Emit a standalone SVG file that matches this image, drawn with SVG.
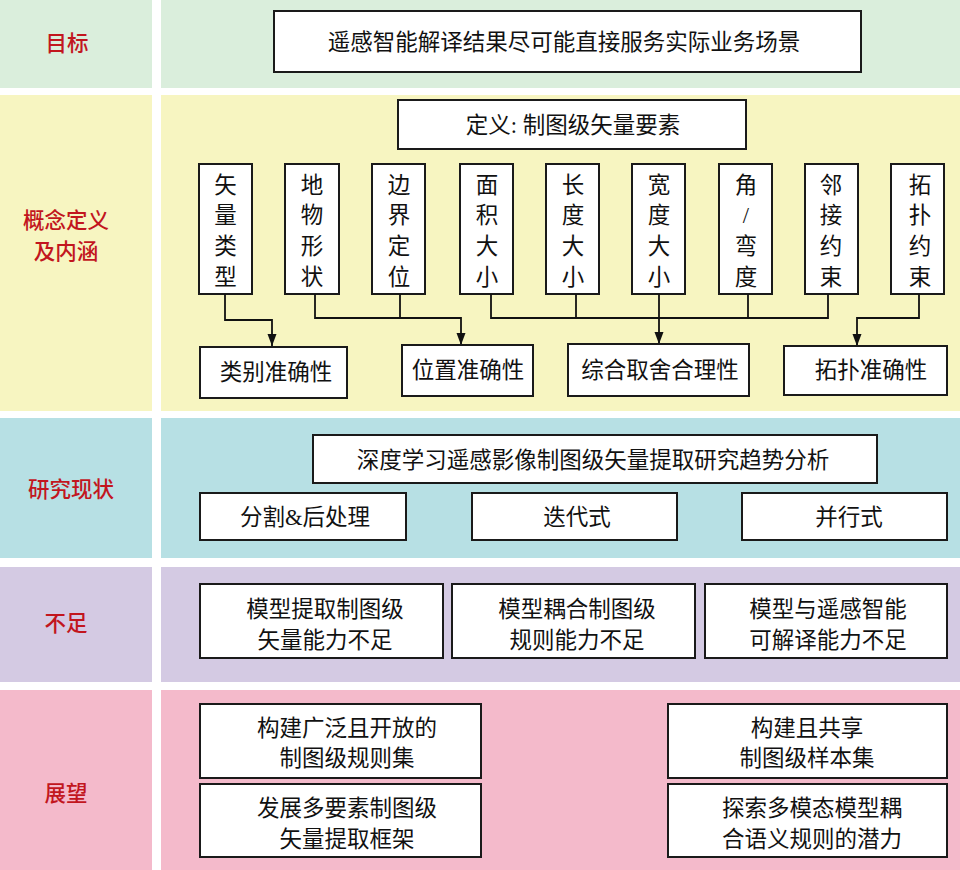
<svg xmlns="http://www.w3.org/2000/svg" width="960" height="870" viewBox="0 0 960 870">
<style>
.box{fill:#ffffff;stroke:#1a1a1a;stroke-width:2}
.t{font-family:'Liberation Serif','Noto Sans CJK SC',serif;font-size:22.5px;fill:#111111;text-anchor:middle;dominant-baseline:central}
.lab{font-family:'Noto Sans CJK SC',sans-serif;font-size:21.5px;font-weight:500;fill:#c2161e;text-anchor:middle;dominant-baseline:central}
.con{fill:none;stroke:#111111;stroke-width:1.8}
</style>
<defs>
<marker id="arr" markerUnits="userSpaceOnUse" markerWidth="12" markerHeight="12" viewBox="0 0 12 12" refX="12" refY="6" orient="auto">
<path d="M0,1.5 L12,6 L0,10.5 z" fill="#111111"/>
</marker>
</defs>
<rect x="0" y="0" width="960" height="870" fill="#ffffff"/>
<g id="bands">
<rect x="0" y="0" width="152" height="88" fill="#daeedc"/>
<rect x="161" y="0" width="799" height="88" fill="#daeedc"/>
<rect x="0" y="95" width="152" height="316" fill="#f7f5c1"/>
<rect x="161" y="95" width="799" height="316" fill="#f7f5c1"/>
<rect x="0" y="418" width="152" height="140" fill="#b7e0e4"/>
<rect x="161" y="418" width="799" height="140" fill="#b7e0e4"/>
<rect x="0" y="567" width="152" height="115" fill="#d4cae3"/>
<rect x="161" y="567" width="799" height="115" fill="#d4cae3"/>
<rect x="0" y="690" width="152" height="180" fill="#f4bacb"/>
<rect x="161" y="690" width="799" height="180" fill="#f4bacb"/>
</g>
<g id="row-labels">
<text class="lab" x="67" y="41">目标</text>
<text class="lab" x="66" y="218">概念定义</text>
<text class="lab" x="66" y="249">及内涵</text>
<text class="lab" x="71" y="487">研究现状</text>
<text class="lab" x="66" y="621">不足</text>
<text class="lab" x="66" y="791">展望</text>
</g>
<g id="goal">
<rect class="box" x="274" y="11" width="587" height="61"/>
<text class="t" x="564" y="42">遥感智能解译结果尽可能直接服务实际业务场景</text>
</g>
<g id="definition">
<rect class="box" x="398" y="100" width="348" height="49"/>
<text class="t" x="573" y="125">定义: 制图级矢量要素</text>
</g>
<g id="v1"><rect class="box" x="199" y="164" width="53" height="130"/>
<text class="t" x="225.5" y="185">矢</text><text class="t" x="225.5" y="215.5">量</text><text class="t" x="225.5" y="246">类</text><text class="t" x="225.5" y="277">型</text></g>
<g id="v2"><rect class="box" x="285" y="164" width="54" height="130"/>
<text class="t" x="312" y="185">地</text><text class="t" x="312" y="215.5">物</text><text class="t" x="312" y="246">形</text><text class="t" x="312" y="277">状</text></g>
<g id="v3"><rect class="box" x="372" y="164" width="53" height="130"/>
<text class="t" x="399" y="185">边</text><text class="t" x="399" y="215.5">界</text><text class="t" x="399" y="246">定</text><text class="t" x="399" y="277">位</text></g>
<g id="v4"><rect class="box" x="460" y="164" width="53" height="130"/>
<text class="t" x="487" y="185">面</text><text class="t" x="487" y="215.5">积</text><text class="t" x="487" y="246">大</text><text class="t" x="487" y="277">小</text></g>
<g id="v5"><rect class="box" x="546" y="164" width="53" height="130"/>
<text class="t" x="573" y="185">长</text><text class="t" x="573" y="215.5">度</text><text class="t" x="573" y="246">大</text><text class="t" x="573" y="277">小</text></g>
<g id="v6"><rect class="box" x="632" y="164" width="53" height="130"/>
<text class="t" x="659" y="185">宽</text><text class="t" x="659" y="215.5">度</text><text class="t" x="659" y="246">大</text><text class="t" x="659" y="277">小</text></g>
<g id="v7"><rect class="box" x="719" y="164" width="53" height="130"/>
<text class="t" x="746" y="185">角</text><text class="t" x="746" y="215.5">/</text><text class="t" x="746" y="246">弯</text><text class="t" x="746" y="277">度</text></g>
<g id="v8"><rect class="box" x="805" y="164" width="53" height="130"/>
<text class="t" x="831" y="185">邻</text><text class="t" x="831" y="215.5">接</text><text class="t" x="831" y="246">约</text><text class="t" x="831" y="277">束</text></g>
<g id="v9"><rect class="box" x="891" y="164" width="53" height="130"/>
<text class="t" x="920" y="185">拓</text><text class="t" x="920" y="215.5">扑</text><text class="t" x="920" y="246">约</text><text class="t" x="920" y="277">束</text></g>
<g id="connectors">
<path class="con" d="M225,294 V320 H272 V346" marker-end="url(#arr)"/>
<path class="con" d="M315,294 V318 H461 V345" marker-end="url(#arr)"/>
<path class="con" d="M400,294 V318"/>
<path class="con" d="M491,294 V318 H828 V294"/>
<path class="con" d="M576,294 V318"/>
<path class="con" d="M748,294 V318"/>
<path class="con" d="M659,294 V344" marker-end="url(#arr)"/>
<path class="con" d="M919,294 V318 H857 V346" marker-end="url(#arr)"/>
</g>
<g id="acc-class"><rect class="box" x="200" y="347" width="147" height="51"/>
<text class="t" x="276" y="372">类别准确性</text></g>
<g id="acc-pos"><rect class="box" x="402" y="345" width="131" height="51"/>
<text class="t" x="468" y="370">位置准确性</text></g>
<g id="acc-gen"><rect class="box" x="568" y="344" width="181" height="52"/>
<text class="t" x="660" y="370">综合取舍合理性</text></g>
<g id="acc-topo"><rect class="box" x="784" y="346" width="163" height="49"/>
<text class="t" x="871" y="370">拓扑准确性</text></g>
<g id="trend"><rect class="box" x="313" y="435" width="564" height="48"/>
<text class="t" x="593" y="460">深度学习遥感影像制图级矢量提取研究趋势分析</text></g>
<g id="seg"><rect class="box" x="200" y="493" width="206" height="47"/>
<text class="t" x="305" y="517">分割&amp;后处理</text></g>
<g id="iter"><rect class="box" x="472" y="493" width="205" height="47"/>
<text class="t" x="577" y="517">迭代式</text></g>
<g id="para"><rect class="box" x="742" y="493" width="205" height="47"/>
<text class="t" x="849" y="517">并行式</text></g>
<g id="lack1"><rect class="box" x="200" y="584" width="243" height="74"/>
<text class="t" x="325" y="609">模型提取制图级</text><text class="t" x="325" y="640">矢量能力不足</text></g>
<g id="lack2"><rect class="box" x="452" y="584" width="243" height="74"/>
<text class="t" x="577" y="609">模型耦合制图级</text><text class="t" x="577" y="640">规则能力不足</text></g>
<g id="lack3"><rect class="box" x="705" y="584" width="242" height="74"/>
<text class="t" x="828" y="609">模型与遥感智能</text><text class="t" x="828" y="640">可解译能力不足</text></g>
<g id="out1"><rect class="box" x="200" y="704" width="281" height="74"/>
<text class="t" x="347" y="728">构建广泛且开放的</text><text class="t" x="347" y="758">制图级规则集</text></g>
<g id="out2"><rect class="box" x="200" y="784" width="281" height="73"/>
<text class="t" x="347" y="808">发展多要素制图级</text><text class="t" x="347" y="839">矢量提取框架</text></g>
<g id="out3"><rect class="box" x="668" y="704" width="279" height="74"/>
<text class="t" x="807" y="728">构建且共享</text><text class="t" x="807" y="758">制图级样本集</text></g>
<g id="out4"><rect class="box" x="668" y="784" width="279" height="73"/>
<text class="t" x="812" y="808">探索多模态模型耦</text><text class="t" x="812" y="839">合语义规则的潜力</text></g>
</svg>
